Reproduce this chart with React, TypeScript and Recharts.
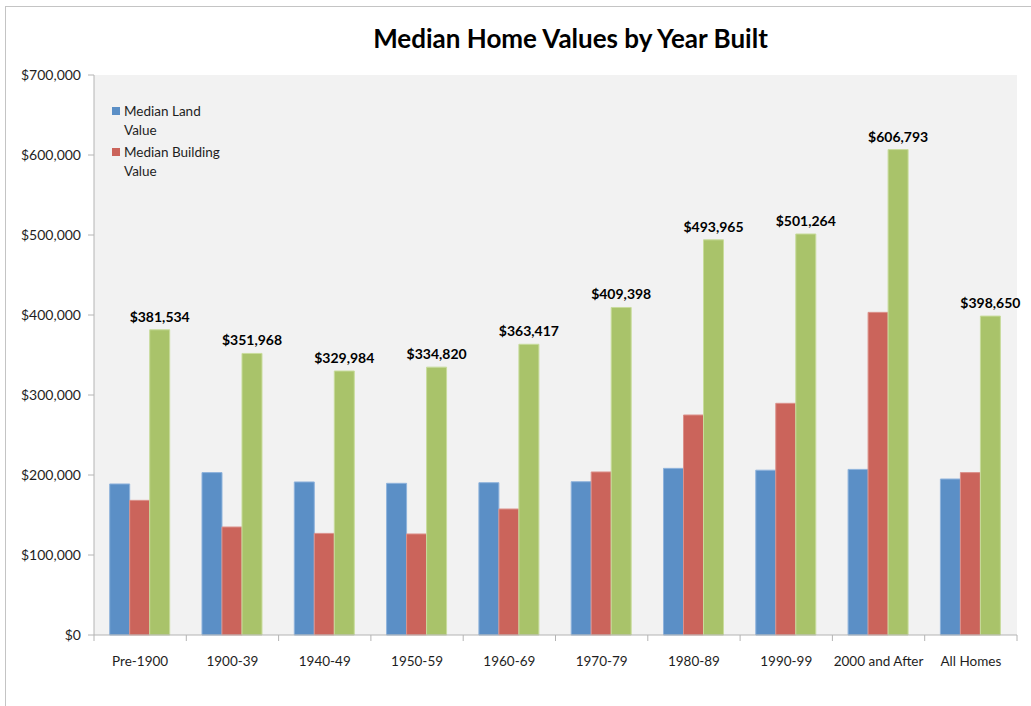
import React from "react";
import {
  BarChart,
  Bar,
  XAxis,
  YAxis,
  CartesianGrid,
  Legend,
  LabelList,
} from "recharts";

// Median land / building / total home value by period of construction.
const categories = [
  "Pre-1900",
  "1900-39",
  "1940-49",
  "1950-59",
  "1960-69",
  "1970-79",
  "1980-89",
  "1990-99",
  "2000 and After",
  "All Homes",
];
const landValues = [188800, 203000, 191300, 189600, 190400, 191600, 208300, 206000, 207000, 195000];
const buildingValues = [168300, 135000, 127000, 126300, 157500, 203800, 275000, 289600, 403300, 203000];
const totalValues = [381534, 351968, 329984, 334820, 363417, 409398, 493965, 501264, 606793, 398650];
const yTicks = [0, 100000, 200000, 300000, 400000, 500000, 600000, 700000];
const legendOrder = ["land", "building"];

const data = categories.map((name, i) => ({
  name,
  land: landValues[i],
  building: buildingValues[i],
  total: totalValues[i],
}));

const FONT = "Lato, 'Open Sans', sans-serif";
const AXIS = "#b4b4b4";
const TEXT = "#1e1e1e";

const COLORS = {
  land: "#5b8fc6",
  building: "#cb645b",
  total: "#a9c36a",
};

const money = (v: number) => "$" + Number(v).toLocaleString("en-US");

// category label in the middle, tick marks on the band edges (Excel style)
function CategoryTick(props: any) {
  const { x, y, payload, index, visibleTicksCount } = props;
  const half = payload?.offset ?? 0;
  const last = index === visibleTicksCount - 1;
  return (
    <g>
      <line x1={x - half} x2={x - half} y1={y - 6} y2={y} stroke={AXIS} />
      {last && <line x1={x + half} x2={x + half} y1={y - 6} y2={y} stroke={AXIS} />}
      <text x={x} y={y} dy={25} textAnchor="middle" fill={TEXT} fontSize={13.5} fontFamily={FONT}>
        {payload.value}
      </text>
    </g>
  );
}

function ValueTick(props: any) {
  const { x, y, payload } = props;
  return (
    <text x={x} y={y} dy={5} textAnchor="end" fill={TEXT} fontSize={14} fontFamily={FONT}>
      {money(payload.value)}
    </text>
  );
}

function LegendBox({ payload }: any) {
  const items = legendOrder
    .map((k) => (payload || []).find((p: any) => p.dataKey === k))
    .filter(Boolean);
  return (
    <div style={{ fontFamily: FONT, fontSize: 13.5, color: TEXT, lineHeight: "19px" }}>
      {items.map((p: any) => (
        <div key={p.value} style={{ display: "flex", alignItems: "flex-start", marginBottom: 3 }}>
          <span
            style={{
              width: 8,
              height: 8,
              background: p.color,
              marginTop: 5,
              marginRight: 4,
              flex: "none",
            }}
          />
          <span style={{ width: 106 }}>{p.value}</span>
        </div>
      ))}
    </div>
  );
}

export default function App() {
  return (
    <div
      style={{
        position: "absolute",
        left: 0,
        top: 0,
        width: 1031,
        height: 706,
        overflow: "hidden",
        background: "#fff",
      }}
    >
      <div
        style={{
          position: "absolute",
          left: 5,
          top: 6,
          width: 1060,
          height: 740,
          border: "1px solid #c4c4c4",
        }}
      />
      <div
        style={{
          position: "absolute",
          left: 0,
          width: 1141,
          top: 22,
          textAlign: "center",
          fontFamily: FONT,
          fontWeight: 700,
          fontSize: 26,
          color: "#000",
        }}
      >
        Median Home Values by Year Built
      </div>
      <BarChart
        width={1031}
        height={706}
        data={data}
        margin={{ top: 75, right: 14, bottom: 41, left: 0 }}
        barCategoryGap="17%"
        barGap={0}
      >
        <CartesianGrid fill="#f2f2f2" horizontal={false} vertical={false} />
        <XAxis
          dataKey="name"
          height={30}
          axisLine={{ stroke: AXIS }}
          tickLine={false}
          tickSize={6}
          tickMargin={0}
          interval={0}
          tick={<CategoryTick />}
        />
        <YAxis
          width={94}
          domain={[0, 700000]}
          ticks={yTicks}
          interval={0}
          axisLine={{ stroke: AXIS }}
          tickLine={{ stroke: AXIS }}
          tickSize={6}
          tickMargin={7}
          tick={<ValueTick />}
        />
        <Legend
          layout="vertical"
          verticalAlign="middle"
          align="center"
          content={<LegendBox />}
          wrapperStyle={{ position: "absolute", left: 112, top: 102, width: 130 }}
        />
        <Bar
          dataKey="land"
          name="Median Land Value"
          fill={COLORS.land}
          stroke="#8fb3dc"
          strokeWidth={1}
          isAnimationActive={false}
        />
        <Bar
          dataKey="building"
          name="Median Building Value"
          fill={COLORS.building}
          stroke="#dc918b"
          strokeWidth={1}
          isAnimationActive={false}
        />
        <Bar
          dataKey="total"
          name="Median Total Value"
          fill={COLORS.total}
          stroke="#c8dc9c"
          strokeWidth={1}
          isAnimationActive={false}
        >
          <LabelList
            dataKey="total"
            position="top"
            offset={8}
            formatter={(v: any) => money(v)}
            style={{ fill: "#000", fontSize: 14, fontWeight: 700, fontFamily: FONT }}
          />
        </Bar>
      </BarChart>
    </div>
  );
}
